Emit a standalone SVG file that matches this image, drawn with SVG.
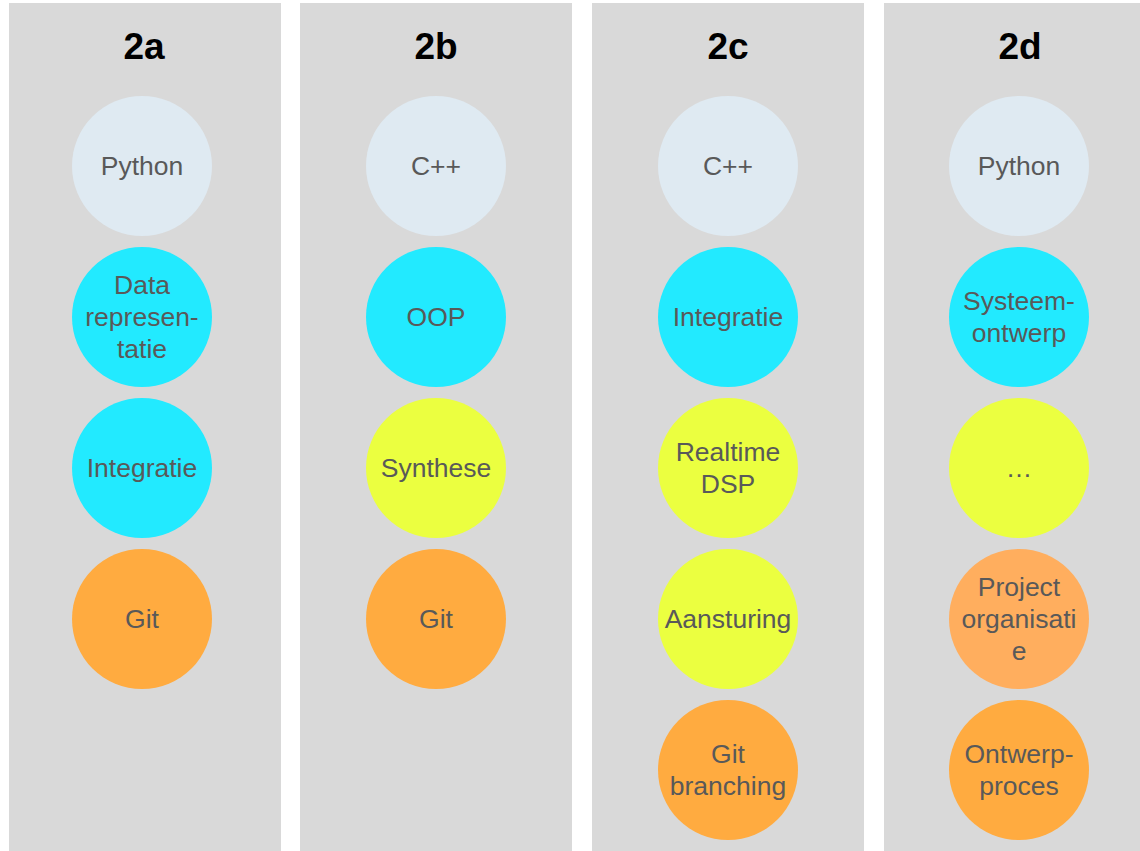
<svg xmlns="http://www.w3.org/2000/svg" width="1140" height="851" viewBox="0 0 1140 851">
<style>
.panel{fill:#d9d9d9}
.title{font-family:"Liberation Sans",Arial,sans-serif;font-weight:bold;font-size:37px;fill:#000;text-anchor:middle}
.lbl{font-family:"Liberation Sans",Arial,sans-serif;font-size:26.5px;fill:#595959;text-anchor:middle}
.c0{fill:#dfeaf2}
.c1{fill:#22eaff}
.c2{fill:#ebff40}
.c3{fill:#ffab40}
.c4{fill:#ffae5e}
</style>
<rect width="1140" height="851" fill="#ffffff"/>
<g id="panel-2a">
<rect class="panel" x="9" y="3" width="272" height="860"/>
<text class="title" x="144" y="59">2a</text>
</g>
<g id="panel-2b">
<rect class="panel" x="300" y="3" width="272" height="860"/>
<text class="title" x="436" y="59">2b</text>
</g>
<g id="panel-2c">
<rect class="panel" x="592" y="3" width="272" height="860"/>
<text class="title" x="728" y="59">2c</text>
</g>
<g id="panel-2d">
<rect class="panel" x="884" y="3" width="272" height="860"/>
<text class="title" x="1020" y="59">2d</text>
</g>

<g id="a1"><circle class="c0" cx="142" cy="166" r="70"/><text class="lbl" x="142" y="175">Python</text></g>
<g id="a2"><circle class="c1" cx="142" cy="317" r="70"/><text class="lbl" x="142" y="294">Data</text><text class="lbl" x="142" y="326">represen-</text><text class="lbl" x="142" y="358">tatie</text></g>
<g id="a3"><circle class="c1" cx="142" cy="468" r="70"/><text class="lbl" x="142" y="477">Integratie</text></g>
<g id="a4"><circle class="c3" cx="142" cy="619" r="70"/><text class="lbl" x="142" y="628">Git</text></g>

<g id="b1"><circle class="c0" cx="436" cy="166" r="70"/><text class="lbl" x="436" y="175">C++</text></g>
<g id="b2"><circle class="c1" cx="436" cy="317" r="70"/><text class="lbl" x="436" y="326">OOP</text></g>
<g id="b3"><circle class="c2" cx="436" cy="468" r="70"/><text class="lbl" x="436" y="477">Synthese</text></g>
<g id="b4"><circle class="c3" cx="436" cy="619" r="70"/><text class="lbl" x="436" y="628">Git</text></g>

<g id="c1n"><circle class="c0" cx="728" cy="166" r="70"/><text class="lbl" x="728" y="175">C++</text></g>
<g id="c2n"><circle class="c1" cx="728" cy="317" r="70"/><text class="lbl" x="728" y="326">Integratie</text></g>
<g id="c3n"><circle class="c2" cx="728" cy="468" r="70"/><text class="lbl" x="728" y="461">Realtime</text><text class="lbl" x="728" y="493">DSP</text></g>
<g id="c4n"><circle class="c2" cx="728" cy="619" r="70"/><text class="lbl" x="728" y="628">Aansturing</text></g>
<g id="c5n"><circle class="c3" cx="728" cy="770" r="70"/><text class="lbl" x="728" y="763">Git</text><text class="lbl" x="728" y="795">branching</text></g>

<g id="d1"><circle class="c0" cx="1019" cy="166" r="70"/><text class="lbl" x="1019" y="175">Python</text></g>
<g id="d2"><circle class="c1" cx="1019" cy="317" r="70"/><text class="lbl" x="1019" y="310">Systeem-</text><text class="lbl" x="1019" y="342">ontwerp</text></g>
<g id="d3"><circle class="c2" cx="1019" cy="468" r="70"/><text class="lbl" x="1019" y="477">…</text></g>
<g id="d4"><circle class="c4" cx="1019" cy="619" r="70"/><text class="lbl" x="1019" y="596">Project</text><text class="lbl" x="1019" y="628">organisati</text><text class="lbl" x="1019" y="660">e</text></g>
<g id="d5"><circle class="c3" cx="1019" cy="770" r="70"/><text class="lbl" x="1019" y="763">Ontwerp-</text><text class="lbl" x="1019" y="795">proces</text></g>
<g id="connectors"></g>
</svg>
